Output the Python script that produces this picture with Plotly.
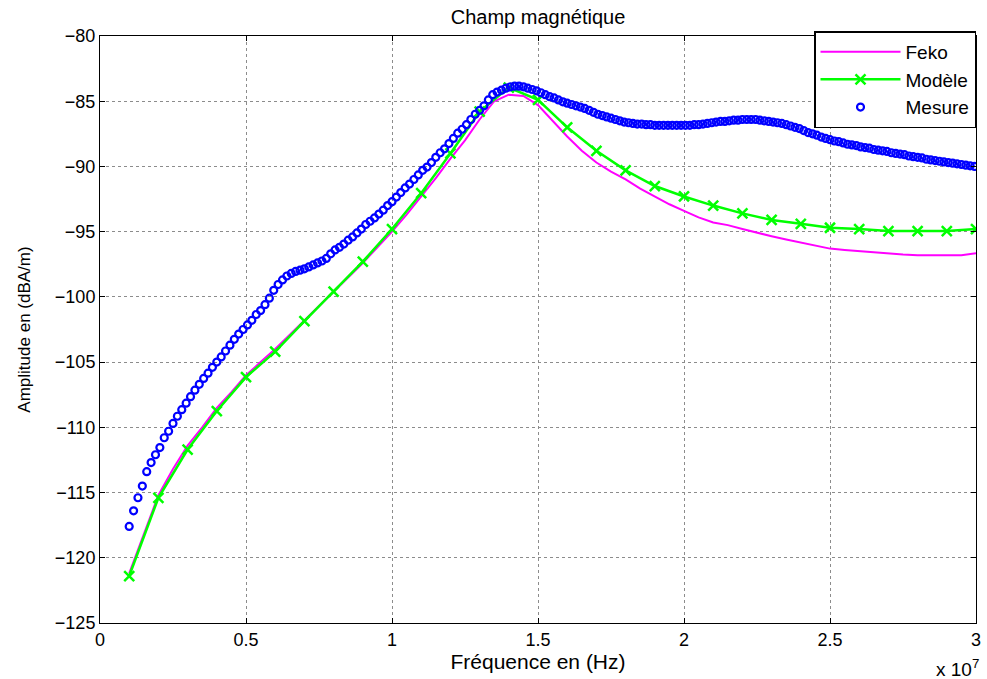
import numpy as np
import plotly.graph_objects as go

# Frequencies in units of 1e7 Hz
modele_f = [0.1, 0.2, 0.3, 0.4, 0.5, 0.6, 0.7, 0.8, 0.9, 1.0,
            1.1, 1.2, 1.3, 1.4, 1.5, 1.6, 1.7, 1.8, 1.9, 2.0,
            2.1, 2.2, 2.3, 2.4, 2.5, 2.6, 2.7, 2.8, 2.9, 3.0]
modele_db = [-121.4, -115.4, -111.7, -108.75, -106.15, -104.2, -101.85, -99.6, -97.3, -94.8,
             -92.05, -89.0, -85.8, -83.95, -84.9, -87.0, -88.8, -90.3, -91.5, -92.3,
             -93.0, -93.6, -94.1, -94.4, -94.7, -94.8, -94.95, -94.95, -94.95, -94.8]

feko_f = [0.10, 0.15, 0.20, 0.25, 0.30, 0.35, 0.40, 0.45, 0.50, 0.55,
          0.60, 0.65, 0.70, 0.75, 0.80, 0.85, 0.90, 0.95, 1.00, 1.05,
          1.10, 1.15, 1.20, 1.25, 1.30, 1.35, 1.40, 1.45, 1.50, 1.55,
          1.60, 1.65, 1.70, 1.75, 1.80, 1.85, 1.90, 1.95, 2.00, 2.05,
          2.10, 2.15, 2.20, 2.25, 2.30, 2.35, 2.40, 2.45, 2.50, 2.55,
          2.60, 2.65, 2.70, 2.75, 2.80, 2.85, 2.90, 2.95, 3.00]
feko_db = [-121.2, -118.2, -115.2, -113.2, -111.4, -110.0, -108.5, -107.3, -106.0, -105.0,
           -104.0, -102.9, -101.8, -100.7, -99.6, -98.5, -97.4, -96.2, -95.0, -93.7,
           -92.3, -90.9, -89.4, -88.0, -86.4, -85.0, -84.5, -84.6, -85.3, -86.5,
           -87.7, -88.8, -89.7, -90.4, -91.0, -91.7, -92.3, -92.9, -93.4, -93.9,
           -94.3, -94.5, -94.8, -95.1, -95.35, -95.6, -95.85, -96.1, -96.3, -96.4,
           -96.5, -96.6, -96.7, -96.75, -96.8, -96.8, -96.8, -96.8, -96.65]

# Mesure sampled every 1.5e5 Hz starting at 1e6 Hz
mesure_start = 0.1
mesure_step = 0.015
mesure_db = [
    -117.6, -116.4, -115.4, -114.5, -113.4, -112.7, -112.1, -111.55, -110.8, -110.3,
    -109.7, -109.15, -108.65, -108.15, -107.65, -107.15, -106.7, -106.25, -105.85, -105.4,
    -105.0, -104.6, -104.15, -103.7, -103.25, -102.85, -102.5, -102.15, -101.8, -101.35,
    -101.05, -100.6, -100.1, -99.5, -99.05, -98.7, -98.4, -98.2, -98.05, -97.95,
    -97.85, -97.7, -97.55, -97.4, -97.25, -97.05, -96.7, -96.4, -96.2, -95.95,
    -95.65, -95.4, -95.1, -94.8, -94.45, -94.2, -93.95, -93.65, -93.35, -93.0,
    -92.7, -92.35, -92.0, -91.65, -91.35, -91.0, -90.65, -90.3, -90.05, -89.7,
    -89.3, -88.95, -88.65, -88.25, -87.85, -87.45, -87.15, -86.8, -86.4, -86.0,
    -85.7, -85.35, -84.9, -84.5, -84.3, -84.15, -84.0, -83.9, -83.85, -83.85,
    -83.9, -84.0, -84.1, -84.2, -84.35, -84.5, -84.65, -84.75, -84.9, -85.05,
    -85.15, -85.25, -85.35, -85.45, -85.55, -85.7, -85.85, -86.0, -86.1, -86.2,
    -86.3, -86.4, -86.5, -86.6, -86.65, -86.7, -86.75, -86.75, -86.8, -86.8,
    -86.85, -86.85, -86.85, -86.85, -86.85, -86.85, -86.85, -86.85, -86.85, -86.8,
    -86.8, -86.75, -86.7, -86.65, -86.6, -86.55, -86.55, -86.5, -86.45, -86.45,
    -86.4, -86.4, -86.4, -86.4, -86.45, -86.5, -86.55, -86.6, -86.65, -86.7,
    -86.8, -86.9, -87.0, -87.1, -87.25, -87.4, -87.5, -87.6, -87.75, -87.85,
    -87.95, -88.05, -88.1, -88.2, -88.3, -88.35, -88.4, -88.5, -88.55, -88.6,
    -88.7, -88.75, -88.8, -88.85, -88.95, -89.0, -89.05, -89.1, -89.2, -89.25,
    -89.3, -89.35, -89.45, -89.5, -89.55, -89.6, -89.65, -89.7, -89.75, -89.8,
    -89.85, -89.9, -89.95, -90.0]
mesure_f = [round(mesure_start + mesure_step * i, 4) for i in range(len(mesure_db))]

x_ticks = [0, 0.5, 1, 1.5, 2, 2.5, 3]
x_tick_labels = ["0", "0.5", "1", "1.5", "2", "2.5", "3"]
y_ticks = [-125, -120, -115, -110, -105, -100, -95, -90, -85, -80]

FONT = "Liberation Sans, Arial, Helvetica, sans-serif"
scale = 1e7
fig = go.Figure()
fig.add_trace(go.Scatter(
    x=[f * scale for f in feko_f], y=feko_db, mode="lines", name="Feko",
    line=dict(color="#ff00ff", width=2)))
fig.add_trace(go.Scatter(
    x=[f * scale for f in modele_f], y=modele_db, mode="lines+markers", name="Modèle",
    line=dict(color="#00ff00", width=2.5),
    marker=dict(symbol="x-thin", size=10, line=dict(color="#00ff00", width=2.5))))
fig.add_trace(go.Scatter(
    x=[f * scale for f in mesure_f], y=mesure_db, mode="markers", name="Mesure",
    marker=dict(symbol="circle-open", size=7, color="#0000ff", line=dict(color="#0000ff", width=2.2))))

axis_common = dict(
    showline=True, linecolor="black", linewidth=1, mirror="ticks",
    ticks="inside", ticklen=5, tickcolor="black",
    showgrid=True, gridcolor="#8c8c8c", griddash="dot", gridwidth=1,
    zeroline=False, tickfont=dict(family=FONT, size=18, color="black"),
    ticklabeloverflow="allow",
)

fig.update_xaxes(range=[0, 3e7], tickvals=[t * scale for t in x_ticks], ticktext=x_tick_labels,
                 title=dict(text="Fréquence en (Hz)", font=dict(family=FONT, size=21, color="black"), standoff=3),
                 **axis_common)
fig.update_yaxes(range=[-125, -80], tickvals=y_ticks,
                 title=dict(text="Amplitude en (dBA/m)", font=dict(family=FONT, size=17, color="black"), standoff=19),
                 **axis_common)

fig.update_layout(
    width=987, height=679,
    margin=dict(l=100, r=6, t=36, b=56),
    paper_bgcolor="white", plot_bgcolor="white",
    title=dict(text="Champ magnétique", x=0.5, xref="paper", xanchor="center",
               y=0.975, yanchor="middle",
               font=dict(family=FONT, size=20, color="black")),
    showlegend=True,
    legend=dict(x=1, y=1.008, xanchor="right", yanchor="top",
                bgcolor="white", bordercolor="black", borderwidth=1.5,
                font=dict(family=FONT, size=19, color="black"),
                tracegroupgap=0, itemwidth=80),
    annotations=[dict(text="x 10<sup>7</sup>", x=1, xref="paper", y=-0.052, yref="paper",
                      xanchor="right", yanchor="top", showarrow=False, xshift=5,
                      font=dict(family=FONT, size=19, color="black"))],
)

fig.write_html("out.html", config={"displayModeBar": False},
               post_script="document.body.style.margin='0px';document.body.style.overflow='hidden';")
